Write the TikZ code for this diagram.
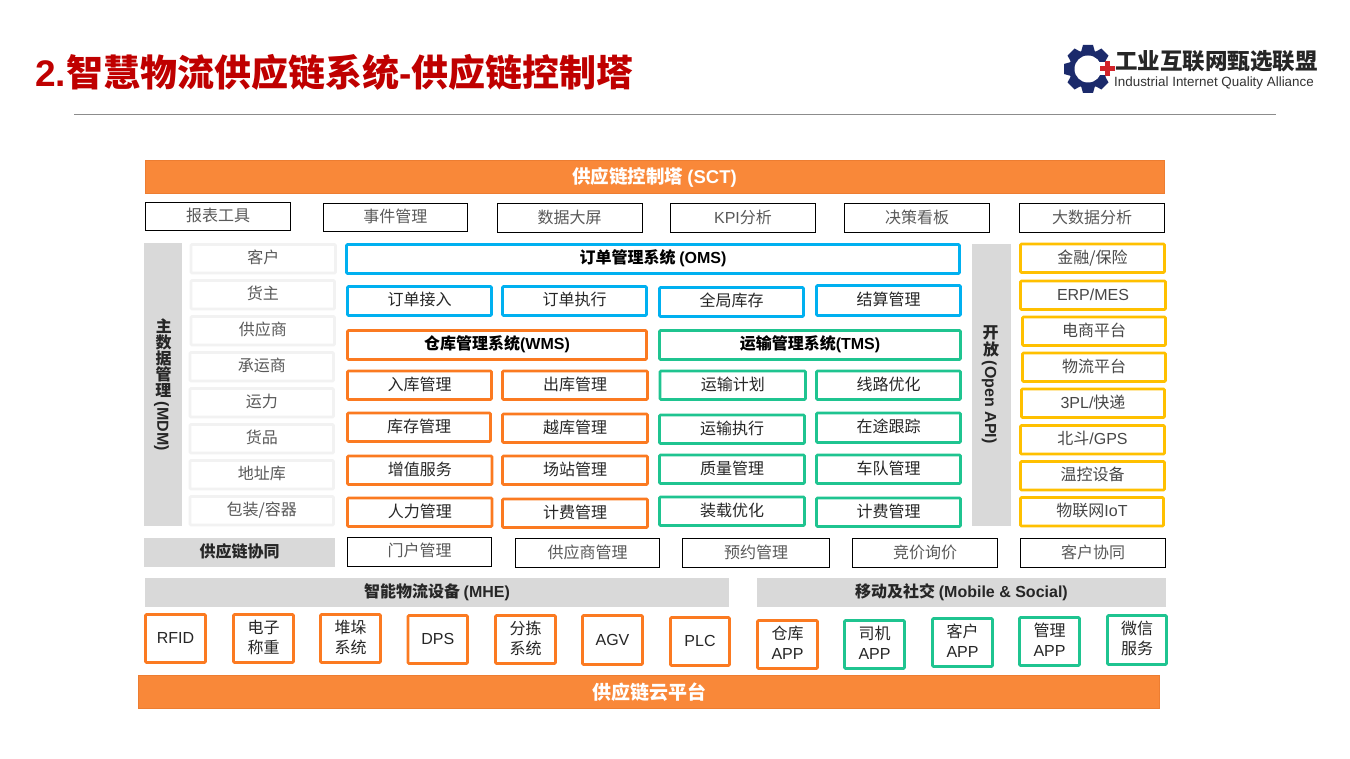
\documentclass[tikz,border=0pt]{standalone}
\usepackage{fontspec}
\usepackage{graphicx}
\setmainfont{Noto Sans CJK SC}
\newfontfamily\lat{Liberation Sans}
\definecolor{orbar}{HTML}{F98839}
\definecolor{orline}{HTML}{ED7D31}
\definecolor{orbox}{HTML}{FB7A21}
\definecolor{bluebox}{HTML}{00B0F0}
\definecolor{greenbox}{HTML}{1FC490}
\definecolor{yelbox}{HTML}{FFC000}
\definecolor{lightbox}{HTML}{F2F2F2}
\definecolor{graybar}{HTML}{D9D9D9}
\definecolor{txtgray}{HTML}{595959}
\definecolor{txtdark}{HTML}{262626}
\definecolor{gearblue}{HTML}{1B2A6B}
\definecolor{plusred}{HTML}{D2232A}
\tikzset{
  base/.style={inner sep=0pt,outer sep=0pt,align=center,rectangle,text height=14pt,text depth=4pt,font=\fontsize{16}{20}\selectfont},
  blackbox/.style={base,draw=black,line width=1pt,text=txtgray},
  lightcell/.style={base,draw=lightbox,line width=2.8pt,text=txtgray,rounded corners=1pt},
  bluecell/.style={base,draw=bluebox,line width=2.8pt,text=txtdark,rounded corners=1pt},
  orcell/.style={base,draw=orbox,line width=2.8pt,text=txtdark,rounded corners=1pt},
  greencell/.style={base,draw=greenbox,line width=2.8pt,text=txtdark,rounded corners=1pt},
  yelcell/.style={base,draw=yelbox,line width=2.8pt,text=txtgray!80!black,rounded corners=1pt},
  twoline/.style={text height=34pt,text depth=5pt},
  head/.style={font=\fontsize{16}{20}\selectfont\bfseries,text=black},
  graycell/.style={base,fill=graybar,text=txtdark,font=\fontsize{16}{20}\selectfont\bfseries},
  orangebar/.style={base,fill=orbar,draw=orline,line width=1pt,text=white,text height=17pt,text depth=3pt,font=\fontsize{19}{22}\selectfont\bfseries},
}
\newcommand{\bxx}[7]{\node[#1,minimum width={(#5-#3)*1pt},minimum height={(#6-#4)*1pt}] (#2) at ({(#3+#5)/2},{(#4+#6)/2}) {#7};}
\newcommand{\up}[1]{\hbox to 16pt{\hss\rotatebox[origin=c]{90}{#1}\hss}}
\begin{document}
\begin{tikzpicture}[x=1pt,y=-1pt]
\useasboundingbox (0,0) rectangle (1350,759);
\fill[white] (0,0) rectangle (1350,759);
% title
\node[anchor=west,inner sep=0pt,text=red!75!black,font=\fontsize{37}{40}\selectfont\bfseries] (title) at (35,72) {{\lat 2.}智慧物流供应链系统{\lat -}供应链控制塔};
\coordinate (ruleL) at (74,114.5);
\coordinate (ruleR) at (1276,114.5);
\draw[color=black!45,line width=0.8pt] (ruleL) -- (ruleR);
% logo
\begin{scope}[shift={(1088,69)}]
  \foreach \a in {0,45,...,315}{
    \fill[gearblue,rotate=\a] (-5,-24) -- (5,-24) -- (7,-17) -- (-7,-17) -- cycle;
  }
  \fill[gearblue] (0,0) circle (19);
  \fill[white] (0,0) circle (13.5);
  \fill[white] (8,-6.5) rectangle (27,6.5);
  \fill[plusred] (11.5,-2.5) rectangle (26.5,2.5);
  \fill[plusred] (16.5,-7.5) rectangle (21.5,7.5);
\end{scope}
\node[anchor=west,inner sep=0pt,text=black!85,font=\fontsize{22.5}{24}\selectfont\bfseries] (logoa) at (1115,61) {工业互联网甄选联盟};
\node[anchor=west,inner sep=0pt,text=black!80,font=\fontsize{13.4}{15}\selectfont\lat] (logob) at (1114,83) {Industrial Internet Quality Alliance};
% top
\bxx{orangebar,font=\fontsize{18.5}{22}\selectfont\bfseries}{sct}{145}{160.5}{1164}{193.5}{供应链控制塔 {\lat (SCT)}}
\bxx{blackbox}{t1}{145.5}{202.5}{290.5}{231}{报表工具}
\bxx{blackbox}{t2}{323}{203.5}{467.5}{232}{事件管理}
\bxx{blackbox}{t3}{497}{204}{642}{233}{数据大屏}
\bxx{blackbox}{t4}{670.5}{204}{815.5}{233}{{\lat KPI}分析}
\bxx{blackbox}{t5}{844.5}{204}{989.5}{233}{决策看板}
\bxx{blackbox}{t6}{1019.5}{204}{1164.5}{233}{大数据分析}
% MDM
\bxx{graycell}{mdm}{144}{243}{182}{526}{}
\node[rotate=-90,inner sep=0pt,text=txtdark,font=\fontsize{16}{20}\selectfont\bfseries] (mdmt) at (mdm.center) {\up{主}\up{数}\up{据}\up{管}\up{理} {\lat (MDM)}};
\bxx{lightcell}{m1}{191}{244.5}{335.5}{273}{客户}
\bxx{lightcell}{m2}{191}{280.5}{334.5}{309}{货主}
\bxx{lightcell}{m3}{191}{316.5}{334.5}{345}{供应商}
\bxx{lightcell}{m4}{190}{352.5}{333.5}{381}{承运商}
\bxx{lightcell}{m5}{190}{388.5}{333.5}{417}{运力}
\bxx{lightcell}{m6}{190}{424.5}{333.5}{453}{货品}
\bxx{lightcell}{m7}{190}{460.5}{333.5}{489}{地址库}
\bxx{lightcell}{m8}{190}{496.5}{333.5}{525}{包装/容器}
% OMS
\bxx{bluecell,head}{oms}{346.5}{244.5}{959.5}{273.5}{订单管理系统 {\lat (OMS)}}
\bxx{bluecell}{o1}{347.5}{286.5}{491.5}{315.5}{订单接入}
\bxx{bluecell}{o2}{502.5}{286.5}{646.5}{315.5}{订单执行}
\bxx{bluecell}{o3}{659.5}{287.5}{803.5}{316.5}{全局库存}
\bxx{bluecell}{o4}{816.5}{285.5}{960.5}{315.5}{结算管理}
% WMS TMS
\bxx{orcell,head}{wms}{347.5}{330.5}{646.5}{359.5}{仓库管理系统{\lat (WMS)}}
\bxx{greencell,head}{tms}{659.5}{330.5}{960.5}{359.5}{运输管理系统{\lat (TMS)}}
\bxx{orcell}{w1}{347.5}{371}{491.5}{399.5}{入库管理}
\bxx{orcell}{w2}{502.5}{371}{647.5}{399.5}{出库管理}
\bxx{orcell}{w3}{347.5}{413}{490.5}{441.5}{库存管理}
\bxx{orcell}{w4}{502.5}{414}{647.5}{442.5}{越库管理}
\bxx{orcell}{w5}{347.5}{456}{492}{484.5}{增值服务}
\bxx{orcell}{w6}{502.5}{456}{647.5}{484.5}{场站管理}
\bxx{orcell}{w7}{347.5}{498}{492}{526.5}{人力管理}
\bxx{orcell}{w8}{502.5}{499}{647.5}{527.5}{计费管理}
\bxx{greencell}{g1}{660}{371}{805.5}{399.5}{运输计划}
\bxx{greencell}{g2}{816.5}{371}{960.5}{399.5}{线路优化}
\bxx{greencell}{g3}{659.5}{415}{804.5}{443.5}{运输执行}
\bxx{greencell}{g4}{816.5}{413}{960.5}{442.5}{在途跟踪}
\bxx{greencell}{g5}{659.5}{455}{804.5}{483.5}{质量管理}
\bxx{greencell}{g6}{816.5}{455}{960.5}{483.5}{车队管理}
\bxx{greencell}{g7}{659.5}{497}{804.5}{525.5}{装载优化}
\bxx{greencell}{g8}{816.5}{498}{960.5}{526.5}{计费管理}
% Open API
\bxx{graycell}{api}{972}{244}{1011}{526}{}
\node[rotate=-90,inner sep=0pt,text=txtdark,font=\fontsize{16}{20}\selectfont\bfseries] (apit) at ([yshift=0.5pt,xshift=-1pt]api.center) {\up{开}\up{放} {\lat (Open API)}};
\bxx{yelcell}{y1}{1020.5}{244}{1164.5}{272.5}{金融/保险}
\bxx{yelcell}{y2}{1020.5}{281}{1165.5}{309.5}{{\lat ERP/MES}}
\bxx{yelcell}{y3}{1022.5}{317}{1165.5}{345.5}{电商平台}
\bxx{yelcell}{y4}{1022.5}{353}{1165.5}{381.5}{物流平台}
\bxx{yelcell}{y5}{1021.5}{389}{1164.5}{417.5}{{\lat 3PL/}快递}
\bxx{yelcell}{y6}{1020.5}{425.5}{1164.5}{454}{北斗{\lat /GPS}}
\bxx{yelcell}{y7}{1020.5}{461.5}{1164.5}{490}{温控设备}
\bxx{yelcell}{y8}{1020.5}{497.5}{1163.5}{526}{物联网{\lat IoT}}
% collaboration
\bxx{graycell}{col}{144}{538}{335}{567}{供应链协同}
\bxx{blackbox}{c1}{347.5}{537.5}{491.5}{566}{门户管理}
\bxx{blackbox}{c2}{515.5}{538.5}{659.5}{567.5}{供应商管理}
\bxx{blackbox}{c3}{682.5}{538.5}{829.5}{567.5}{预约管理}
\bxx{blackbox}{c4}{852.5}{538.5}{997.5}{567.5}{竞价询价}
\bxx{blackbox}{c5}{1020.5}{538.5}{1165.5}{567.5}{客户协同}
% MHE / Mobile
\bxx{graycell}{mhe}{145}{578}{729}{607}{智能物流设备 {\lat (MHE)}}
\bxx{graycell}{mob}{757}{578}{1166}{607}{移动及社交 {\lat (Mobile \& Social)}}
\bxx{orcell}{d1}{145.5}{614.5}{205.5}{662.5}{{\lat RFID}}
\bxx{orcell,twoline}{d2}{233.5}{614.5}{293.5}{662.5}{电子\\称重}
\bxx{orcell,twoline}{d3}{320.5}{614.5}{380.5}{662.5}{堆垛\\系统}
\bxx{orcell}{d4}{408}{615.5}{467.5}{663.5}{{\lat DPS}}
\bxx{orcell,twoline}{d5}{495.5}{615.5}{555.5}{663.5}{分拣\\系统}
\bxx{orcell}{d6}{582.5}{615.5}{642.5}{664.5}{{\lat AGV}}
\bxx{orcell}{d7}{670.5}{617.5}{729.5}{665.5}{{\lat PLC}}
\bxx{orcell,twoline}{a1}{757.5}{620.5}{817.5}{668.5}{仓库\\{\lat APP}}
\bxx{greencell,twoline}{a2}{844.5}{620.5}{904.5}{668.5}{司机\\{\lat APP}}
\bxx{greencell,twoline}{a3}{932.5}{618.5}{992.5}{666.5}{客户\\{\lat APP}}
\bxx{greencell,twoline}{a4}{1019.5}{617.5}{1079.5}{665.5}{管理\\{\lat APP}}
\bxx{greencell,twoline}{a5}{1107.5}{615.5}{1166.5}{664.5}{微信\\服务}
% platform
\bxx{orangebar}{cloud}{138.5}{675.5}{1159.5}{708.5}{供应链云平台}
\end{tikzpicture}
\end{document}
